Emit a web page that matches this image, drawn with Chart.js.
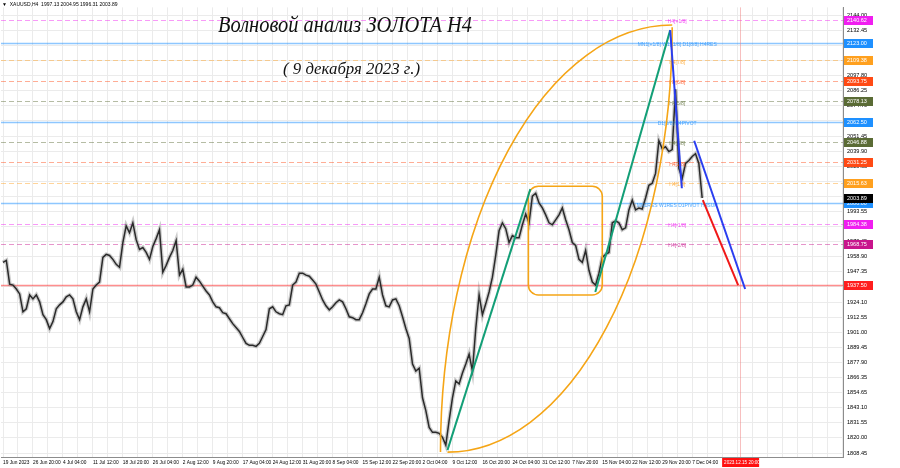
<!DOCTYPE html>
<html>
<head>
<meta charset="utf-8">
<script src="https://cdn.jsdelivr.net/npm/chart.js@4.4.0/dist/chart.umd.min.js"></script>
<style>
html, body { margin: 0; padding: 0; background: #fff; }
#wrap { width: 900px; height: 468px; }
</style>
</head>
<body>
<div id="wrap"><canvas id="chart" width="900" height="468"></canvas></div>
<script>
// XAUUSD H4 closes, one sample every STEP (9 samples between two time labels)
var closes = [
    1954.6, 1956.1, 1937.9, 1937.2, 1934.2, 1930.4, 1916.7, 1919.0, 1929.6, 1926.6,
    1929.6, 1924.3, 1914.5, 1910.7, 1903.9, 1909.2, 1919.0, 1922.0, 1924.3, 1928.1,
    1929.6, 1926.6, 1916.7, 1910.7, 1920.5, 1926.6, 1916.7, 1934.2, 1937.2, 1939.5,
    1958.4, 1960.7, 1959.9, 1956.9, 1953.1, 1950.8, 1969.8, 1982.6, 1977.3, 1984.9,
    1972.0, 1964.5, 1966.0, 1962.2, 1956.9, 1966.7, 1972.8, 1979.6, 1947.0, 1952.3,
    1958.4, 1963.7, 1971.3, 1944.8, 1949.3, 1935.7, 1935.7, 1937.2, 1943.2, 1940.2,
    1936.4, 1932.7, 1929.6, 1924.3, 1920.5, 1919.8, 1916.0, 1915.2, 1911.4, 1907.6,
    1904.6, 1901.6, 1897.0, 1892.5, 1891.0, 1891.0, 1890.2, 1892.5, 1897.8, 1903.1,
    1919.0, 1920.5, 1916.7, 1915.2, 1914.5, 1921.3, 1922.0, 1937.2, 1939.5, 1946.3,
    1946.3, 1944.8, 1944.0, 1941.0, 1937.9, 1931.9, 1925.8, 1921.3, 1918.2, 1920.5,
    1923.6, 1925.8, 1924.3, 1919.0, 1912.9, 1912.2, 1910.7, 1910.7, 1916.0, 1922.8,
    1930.4, 1934.2, 1934.2, 1943.2, 1929.6, 1921.3, 1920.5, 1925.8, 1926.6, 1921.3,
    1912.9, 1903.9, 1896.3, 1876.6, 1871.3, 1873.5, 1850.8, 1841.0, 1828.1, 1824.3,
    1824.3, 1823.5, 1820.5, 1814.5, 1833.4, 1850.8, 1863.7, 1861.4, 1869.8, 1876.6,
    1884.2, 1871.3, 1903.9, 1929.6, 1914.5, 1922.8, 1931.9, 1943.2, 1959.9, 1978.8,
    1984.9, 1980.4, 1969.8, 1975.1, 1973.5, 1973.5, 1983.4, 1991.7, 1984.9, 2005.4,
    2007.6, 2000.1, 1996.3, 1991.0, 1984.9, 1983.4, 1987.2, 1991.0, 1996.3, 1987.2,
    1979.6, 1969.8, 1967.5, 1956.9, 1954.6, 1963.7, 1948.5, 1939.5, 1937.2, 1946.3,
    1958.4, 1960.7, 1962.2, 1984.9, 1986.4, 1984.9, 1979.6, 1981.1, 1994.8, 2002.3,
    1994.8, 1996.3, 1995.5, 2003.9, 2013.7, 2015.2, 2022.8, 2047.8, 2041.7, 2043.2,
    2039.5, 2041.0, 2087.2, 2026.6, 2019.0, 2030.4, 2032.6, 2035.7, 2037.9, 2030.4,
    2003.89
];

var timeLabels = ['19 Jun 2023', '26 Jun 20:00', '4 Jul 04:00', '11 Jul 12:00', '18 Jul 20:00',
    '26 Jul 04:00', '2 Aug 12:00', '9 Aug 20:00', '17 Aug 04:00', '24 Aug 12:00', '31 Aug 20:00',
    '8 Sep 04:00', '15 Sep 12:00', '22 Sep 20:00', '2 Oct 04:00', '9 Oct 12:00', '16 Oct 20:00',
    '24 Oct 04:00', '31 Oct 12:00', '7 Nov 20:00', '15 Nov 04:00', '22 Nov 12:00', '29 Nov 20:00',
    '7 Dec 04:00'];
var LABEL_EVERY = 9;

var priceTicks = [2144.00, 2132.45, 2120.90, 2109.35, 2097.80, 2086.25, 2074.70, 2063.15,
    2051.45, 2039.90, 2028.35, 2016.80, 2005.25, 1993.55, 1982.00, 1970.45, 1958.90, 1947.35,
    1935.80, 1924.10, 1912.55, 1901.00, 1889.45, 1877.90, 1866.35, 1854.65, 1843.10, 1831.55,
    1820.00, 1808.45];

// Murrey / pivot levels
var levelValues = [2140.62, 2123.00, 2109.38, 2093.75, 2078.13, 2062.50, 2046.88, 2031.25,
    2015.63, 2000.00, 1984.38, 1968.75, 1937.50];
var levelColors = ['#f01ef0', '#1e90ff', '#ffa01e', '#ff4a14', '#5a6b35', '#1e90ff', '#5a6b35',
    '#ff4a14', '#ffa01e', '#1e90ff', '#f01ef0', '#c8148c', '#ff1e1e'];
var levelDashed = [true, false, true, true, true, false, true, true, true, false, true, true, false];
var levelNames = ['H4[+1/8]', 'MN1[+1/8] W1[-1/8] D1[8/8] H4RES', 'H4[7/8]', 'H4[6/8]', 'H4[5/8]',
    'D1[5/8] H4PIVOT', 'H4[3/8]', 'H4[2/8]', 'H4[1/8]', 'MN1RES W1RES D1PIVOT H4SUP',
    'H4[-1/8]', 'H4[-2/8]', ''];

var lastPrice = 2003.89;
var futureStep = 221.4;
var futureLabel = '2023.12.15 20:00';

// wave drawing, [step, price]
var greenWaves = [[[133.5, 1810.7], [158.4, 2010.7]], [[177.9, 1931.9], [200.4, 2132.6]]];
var blueWaves = [[[200.4, 2132.6], [203.9, 2011.4]], [[207.6, 2047.8], [222.9, 1934.2]]];
var redWaves = [[[210.2, 2002.3], [220.8, 1937.2]]];
var boxCorners = [[157.8, 2012.9], [180.0, 1929.6]];

var SMALL = '"Liberation Sans", Arial, sans-serif';

function line(ctx, chart, pts, color, width, dash) {
    var xs = chart.scales.x, ys = chart.scales.y;
    ctx.save();
    ctx.strokeStyle = color;
    ctx.lineWidth = width;
    ctx.setLineDash(dash || []);
    ctx.beginPath();
    ctx.moveTo(xs.getPixelForValue(pts[0][0]), ys.getPixelForValue(pts[0][1]));
    ctx.lineTo(xs.getPixelForValue(pts[1][0]), ys.getPixelForValue(pts[1][1]));
    ctx.stroke();
    ctx.restore();
}

var levelsPlugin = {
    id: 'levels',
    beforeDatasetsDraw: function (chart) {
        var ctx = chart.ctx, area = chart.chartArea, ys = chart.scales.y, xs = chart.scales.x;
        ctx.save();
        for (var i = 0; i < levelValues.length; i++) {
            var y = Math.round(ys.getPixelForValue(levelValues[i])) + 0.5;
            ctx.globalAlpha = levelDashed[i] ? 0.45 : 0.5;
            ctx.strokeStyle = levelColors[i];
            ctx.lineWidth = levelDashed[i] ? 1 : 1.5;
            ctx.setLineDash(levelDashed[i] ? [5, 3] : []);
            ctx.beginPath();
            ctx.moveTo(area.left, y);
            ctx.lineTo(area.right, y);
            ctx.stroke();
        }
        // future time line
        ctx.globalAlpha = 0.5;
        ctx.setLineDash([]);
        ctx.strokeStyle = '#f08080';
        ctx.lineWidth = 1;
        var fx = Math.round(xs.getPixelForValue(futureStep)) + 0.5;
        ctx.beginPath();
        ctx.moveTo(fx, area.top);
        ctx.lineTo(fx, area.bottom);
        ctx.stroke();
        ctx.restore();
    },
    afterDatasetsDraw: function (chart) {
        var ctx = chart.ctx, area = chart.chartArea, ys = chart.scales.y, xs = chart.scales.x;
        var i;

        // level captions
        ctx.save();
        ctx.font = '5px ' + SMALL;
        ctx.textAlign = 'center';
        ctx.textBaseline = 'middle';
        var cx = xs.getPixelForValue(202.5);
        for (i = 0; i < levelNames.length; i++) {
            if (!levelNames[i]) continue;
            ctx.globalAlpha = 0.8;
            ctx.fillStyle = levelColors[i];
            ctx.fillText(levelNames[i], cx, ys.getPixelForValue(levelValues[i]) + 2);
        }
        ctx.restore();

        // orange arcs
        ctx.save();
        ctx.strokeStyle = '#f5a516';
        ctx.lineWidth = 1.6;
        var lx = xs.getPixelForValue(201), ly = ys.getPixelForValue(1809.2);
        var lrx = xs.getPixelForValue(201) - xs.getPixelForValue(131.4);
        var lry = ys.getPixelForValue(1809.2) - ys.getPixelForValue(2136.5);
        ctx.beginPath();
        ctx.ellipse(lx, ly, lrx, lry, 0, Math.PI, 1.5 * Math.PI);
        ctx.stroke();
        var rx = xs.getPixelForValue(133.5), ry = ys.getPixelForValue(2134.9);
        var rrx = xs.getPixelForValue(201) - xs.getPixelForValue(133.5);
        var rry = ys.getPixelForValue(1809.1) - ys.getPixelForValue(2134.9);
        ctx.beginPath();
        ctx.ellipse(rx, ry, rrx, rry, 0, 0, 0.5 * Math.PI);
        ctx.stroke();

        // rounded box
        var bx0 = xs.getPixelForValue(boxCorners[0][0]), by0 = ys.getPixelForValue(boxCorners[0][1]);
        var bx1 = xs.getPixelForValue(boxCorners[1][0]), by1 = ys.getPixelForValue(boxCorners[1][1]);
        ctx.beginPath();
        ctx.roundRect(bx0, by0, bx1 - bx0, by1 - by0, 10);
        ctx.stroke();
        ctx.restore();

        for (i = 0; i < greenWaves.length; i++) line(ctx, chart, greenWaves[i], '#139f77', 2);
        for (i = 0; i < blueWaves.length; i++) line(ctx, chart, blueWaves[i], '#2a3ef0', 2);
        for (i = 0; i < redWaves.length; i++) line(ctx, chart, redWaves[i], '#f01818', 2);

        // title
        ctx.save();
        ctx.fillStyle = '#111';
        ctx.textBaseline = 'middle';
        ctx.textAlign = 'left';
        ctx.font = 'italic 23px "Liberation Serif"';
        var t1 = 'Волновой анализ ЗОЛОТА Н4';
        ctx.save();
        ctx.translate(218, 26);
        ctx.scale(254 / ctx.measureText(t1).width, 1);
        ctx.fillText(t1, 0, 0);
        ctx.restore();
        ctx.font = 'italic 16px "Liberation Serif"';
        var t2 = '( 9 декабря 2023 г.)';
        ctx.save();
        ctx.translate(283, 70);
        ctx.scale(137 / ctx.measureText(t2).width, 1);
        ctx.fillText(t2, 0, 0);
        ctx.restore();

        // symbol header
        ctx.font = '5px ' + SMALL;
        ctx.fillStyle = '#000';
        ctx.fillText('\u25BC  XAUUSD,H4  1997.13 2004.95 1996.31 2003.89', 2, 5);
        ctx.restore();
    },
    afterDraw: function (chart) {
        var ctx = chart.ctx, area = chart.chartArea, ys = chart.scales.y, xs = chart.scales.x;
        ctx.save();
        ctx.font = '5.5px ' + SMALL;
        ctx.textBaseline = 'middle';
        ctx.textAlign = 'left';
        var boxVals = levelValues.concat([lastPrice]);
        var boxCols = levelColors.concat(['#000']);
        for (var i = 0; i < boxVals.length; i++) {
            var y = Math.round(ys.getPixelForValue(boxVals[i]));
            ctx.fillStyle = boxCols[i];
            ctx.fillRect(area.right + 1, y - 4, 29, 9);
            ctx.fillStyle = '#fff';
            ctx.fillText(boxVals[i].toFixed(2), area.right + 4, y + 0.5);
        }
        // future time box
        var fx = xs.getPixelForValue(futureStep);
        ctx.font = '4.6px ' + SMALL;
        ctx.fillStyle = '#ff1010';
        ctx.fillRect(fx - 18, area.bottom + 1, 37, 9);
        ctx.fillStyle = '#fff';
        ctx.fillText(futureLabel, fx - 16, area.bottom + 5.5);
        ctx.restore();
    }
};

var pricePoints = closes.map(function (v, i) { return { x: i, y: v }; });

new Chart(document.getElementById('chart'), {
    type: 'line',
    data: {
        datasets: [{
            // body of the H4 closes
            data: pricePoints,
            borderColor: '#2a2a2a',
            borderWidth: 1.5,
            pointRadius: 0,
            tension: 0,
            order: 0
        }, {
            // grey shadow standing in for the candle wicks
            data: pricePoints,
            borderColor: 'rgba(110,110,110,0.35)',
            borderWidth: 4,
            pointRadius: 0,
            tension: 0,
            order: 1
        }]
    },
    options: {
        responsive: false,
        animation: false,
        devicePixelRatio: 1,
        layout: { padding: { top: 2, left: 0, right: 0, bottom: 0 } },
        plugins: { legend: { display: false }, tooltip: { enabled: false } },
        scales: {
            x: {
                type: 'linear',
                min: -0.6,
                max: 252.3,
                afterBuildTicks: function (scale) {
                    var t = [];
                    for (var v = 0; v <= 252; v += LABEL_EVERY / 2) t.push({ value: v });
                    scale.ticks = t;
                },
                afterFit: function (scale) { scale.height = 11; },
                grid: { color: '#ebebeb', drawTicks: false, tickLength: 0 },
                border: { color: '#8c8c8c' },
                ticks: {
                    autoSkip: false,
                    maxRotation: 0,
                    align: 'start',
                    padding: 3,
                    color: '#000',
                    font: { family: 'Liberation Sans', size: 4.8 },
                    callback: function (v) {
                        return v % LABEL_EVERY === 0 ? (timeLabels[v / LABEL_EVERY] || '') : '';
                    }
                }
            },
            y: {
                type: 'linear',
                position: 'right',
                min: 1805.4,
                max: 2150.06,
                afterBuildTicks: function (scale) {
                    scale.ticks = priceTicks.map(function (v) { return { value: v }; });
                },
                afterFit: function (scale) { scale.width = 57; },
                grid: { color: '#ebebeb', drawTicks: false, tickLength: 0 },
                border: { color: '#8c8c8c' },
                ticks: {
                    padding: 4,
                    color: '#000',
                    font: { family: 'Liberation Sans', size: 5.6 },
                    callback: function (v) { return v.toFixed(2); }
                }
            }
        }
    },
    plugins: [levelsPlugin]
});
</script>
</body>
</html>
